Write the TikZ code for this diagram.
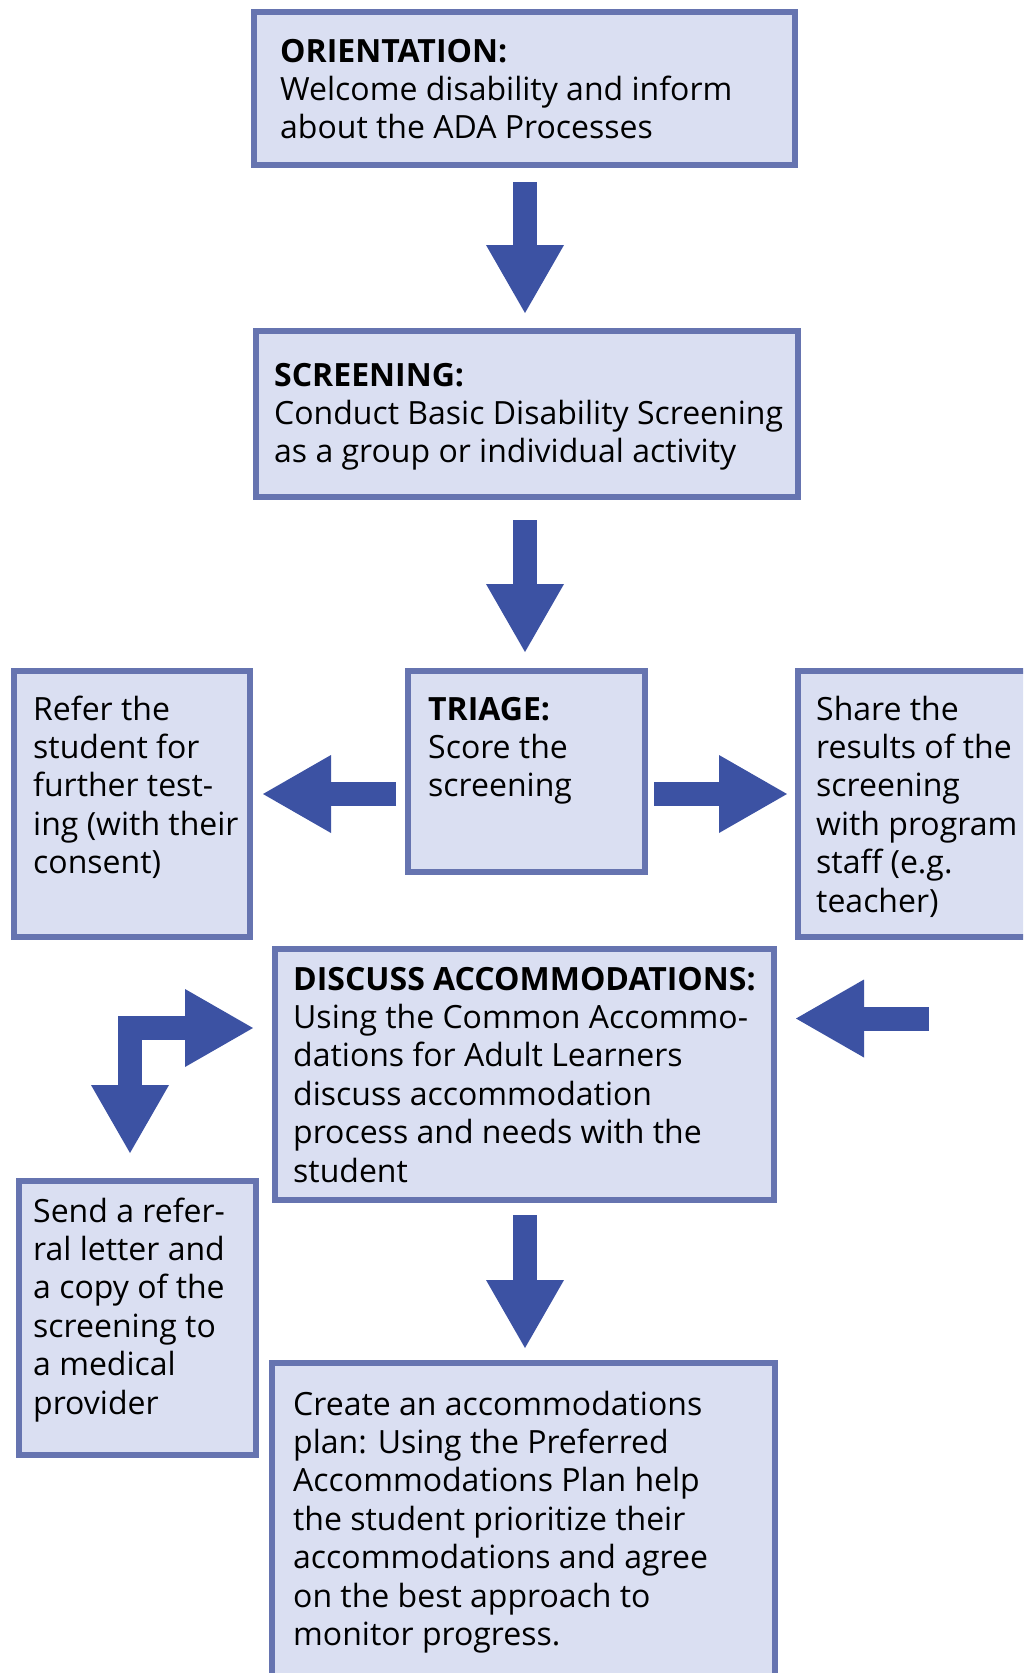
\documentclass[tikz,border=0pt]{standalone}
\usepackage{fontspec}
\setmainfont{Open Sans}
\usepackage{tikz}
\usetikzlibrary{arrows.meta}

\definecolor{boxline}{HTML}{6674B0}
\definecolor{boxfill}{HTML}{DADFF2}
\definecolor{arrowblue}{HTML}{3C52A3}

\begin{document}
\begin{tikzpicture}[x=1pt,y=-1pt,
    box/.style={draw=boxline,fill=boxfill,line width=6pt,inner sep=0pt},
    txt/.style={anchor=base west,align=left,inner sep=0pt,font=\fontsize{32}{38.4}\selectfont},
    blockhead/.tip={Triangle[width=78pt,length=68pt,line width=0pt]},
    blockarrow/.style={draw=arrowblue,line width=24pt,-blockhead}]
    \clip[use as bounding box] (0,0) rectangle (1023,1673);
    % boxes
    \node[box,minimum width=541pt,minimum height=153pt] (orient) at (524.5,88.5) {};
    \node[box,minimum width=542pt,minimum height=166pt] (screen) at (527,414) {};
    \node[box,minimum width=237pt,minimum height=201pt] (triage) at (526.5,771.5) {};
    \node[box,minimum width=236pt,minimum height=266pt] (refer) at (132,804) {};
    \node[box,minimum width=300pt,minimum height=266pt] (share) at (948,804) {};
    \node[box,minimum width=499pt,minimum height=251pt] (discuss) at (524.5,1074.5) {};
    \node[box,minimum width=237pt,minimum height=274pt] (send) at (137.5,1318) {};
    \node[box,minimum width=503pt,minimum height=334pt] (create) at (523.5,1530) {};
    % texts (placed at the baseline of their last line)
    \node[txt] (orienttxt) at (280,138.8) {\textbf{ORIENTATION:}\\Welcome disability and inform\\about the ADA Processes};
    \node[txt] (screentxt) at (274,462.8) {\textbf{SCREENING:}\\Conduct Basic Disability Screening\\as a group or individual activity};
    \node[txt] (triagetxt) at (428,796.8) {\textbf{TRIAGE:}\\Score the\\screening};
    \node[txt] (refertxt) at (33,873.6) {Refer the\\student for\\further test-\\ing (with their\\consent)};
    \node[txt] (sharetxt) at (816,912) {Share the\\results of the\\screening\\with program\\staff (e.g.\\teacher)};
    \node[txt] (discusstxt) at (293,1182) {\textbf{DISCUSS ACCOMMODATIONS:}\\Using the Common Accommo-\\dations for Adult Learners\\discuss accommodation\\process and needs with the\\student};
    \node[txt] (sendtxt) at (33,1414) {Send a refer-\\ral letter and\\a copy of the\\screening to\\a medical\\provider};
    \node[txt] (createtxt) at (293,1645.4) {Create an accommodations\\plan: Using the Preferred\\Accommodations Plan help\\the student prioritize their\\accommodations and agree\\on the best approach to\\monitor progress.};
    % arrows
    \coordinate (axis) at (525,0);
    \draw[blockarrow,shorten <=14pt,shorten >=15pt] (axis |- orient.south) -- (axis |- screen.north);
    \draw[blockarrow,shorten <=20pt,shorten >=16pt] (axis |- screen.south) -- (axis |- triage.north);
    \draw[blockarrow,shorten <=12pt,shorten >=12pt] (axis |- discuss.south) -- (axis |- create.north);
    \coordinate (tl) at ([yshift=-22.5pt]triage.west);
    \coordinate (tr) at ([yshift=-22.5pt]triage.east);
    \draw[blockarrow,shorten <=9pt,shorten >=10pt] (tl) -- (tl -| refer.east);
    \draw[blockarrow,shorten <=6pt,shorten >=8pt] (tr) -- (tr -| share.west);
    \coordinate (sharein) at (929,1018.5);
    \draw[blockarrow,shorten >=19pt] (sharein) -- (sharein -| discuss.east);
    \coordinate (bend) at (130,1028);
    \draw[blockarrow,blockhead-blockhead,shorten <=25pt,shorten >=19pt] (send.north -| bend) -- (bend) -- (discuss.west |- bend);
\end{tikzpicture}
\end{document}
